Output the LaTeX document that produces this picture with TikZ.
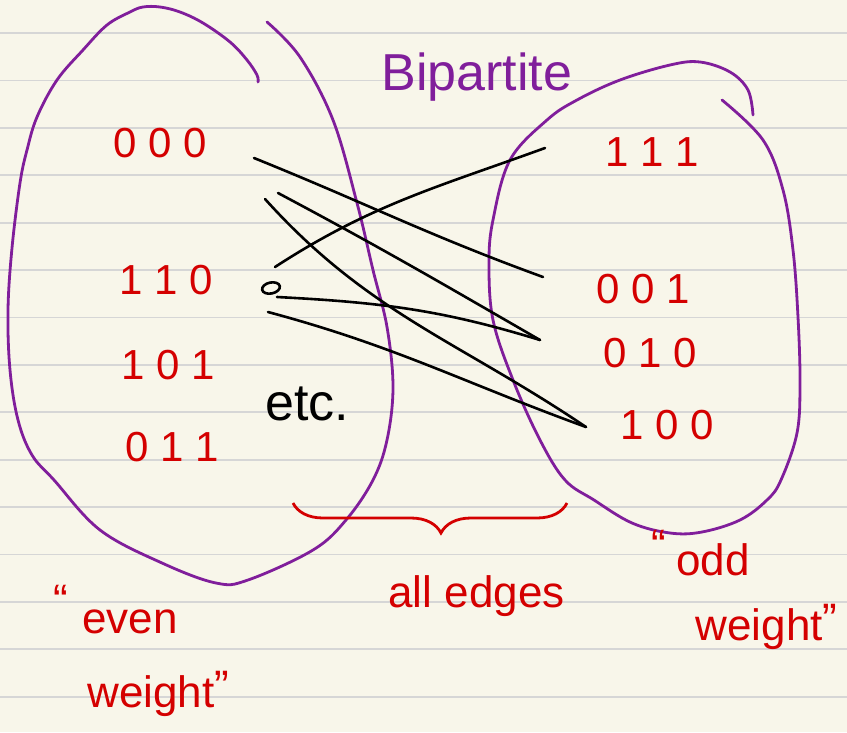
\documentclass[tikz,border=0pt]{standalone}
\usepackage{fontspec}
\setmainfont{Liberation Sans}
\usetikzlibrary{shapes.geometric,decorations.pathreplacing}
\definecolor{paperbg}{RGB}{248,246,234}
\definecolor{ruleline}{RGB}{214,214,214}
\definecolor{inkpurple}{RGB}{128,30,155}
\definecolor{inkred}{RGB}{212,0,0}

\begin{document}
\begin{tikzpicture}[x=1pt,y=1pt,
    rule/.style={ruleline,line width=1.8pt},
    blob/.style={inkpurple,line width=2.8pt,line cap=round},
    edge/.style={black,line width=2.6pt,line cap=round},
    code/.style={inkred,font=\fontsize{42}{48}\selectfont},
    word/.style={inkred,anchor=base west,font=\fontsize{44}{50}\selectfont}]
  \fill[paperbg] (0,0) rectangle (847,-732);
  \useasboundingbox (0,0) rectangle (847,-732);
  \foreach \k in {0,...,14}
    \draw[rule] (0,{-33-47.4*\k}) -- (847,{-33-47.4*\k});
  % even side and odd side
  \draw[blob] plot[smooth,tension=0.6] coordinates {(258,-82) (257,-75) (247,-60) (230,-42) (203,-23) (180,-12) (160,-7) (143,-7) (130,-12) (107,-25) (83,-50) (57,-80) (37,-117) (27,-150) (20,-183) (12,-248) (8,-310) (10,-370) (18,-420) (32,-455) (54,-480) (100,-530) (162,-563) (216,-583) (248,-580) (313,-550) (346,-520) (373,-480) (387,-440) (393,-387) (387,-327) (373,-270) (357,-203) (333,-120) (300,-57) (267,-22)};
  \draw[blob] plot[smooth,tension=0.6] coordinates {(722,-100) (763,-140) (783,-190) (793,-250) (798,-317) (800,-383) (797,-433) (781,-480) (767,-500) (740,-520) (702,-532) (670,-533) (632,-523) (594,-500) (565,-480) (540,-440) (513,-380) (493,-320) (489,-263) (493,-220) (510,-160) (547,-120) (577,-100) (620,-80) (670,-65) (700,-62) (730,-72) (748,-90) (753,-115)};
  \node[inkpurple,anchor=base west,font=\fontsize{52}{58}\selectfont] (title) at (378,-90) {Bipartite};
  % codes
  \node[code] (c000) at (160,-143) {0 0 0};
  \node[code] (c110) at (166,-280) {1 1 0};
  \node[code] (c101) at (168,-365) {1 0 1};
  \node[code] (c011) at (172,-447) {0 1 1};
  \node[code] (c111) at (652,-152) {1 1 1};
  \node[code] (c001) at (643,-289) {0 0 1};
  \node[code] (c010) at (650,-353) {0 1 0};
  \node[code] (c100) at (667,-425) {1 0 0};
  \node[anchor=base west,font=\fontsize{52}{58}\selectfont] (etc) at (262,-420) {etc.};
  % edge ends
  \node[draw,ellipse,line width=2.6pt,inner sep=0pt,minimum width=18pt,minimum height=11pt,rotate=12] (dot) at (271,-288) {};
  \coordinate (t000a) at (254,-158);
  \coordinate (t000b) at (278,-193);
  \coordinate (t000c) at (265,-199);
  \coordinate (t110a) at (275,-267);
  \coordinate (t110b) at (277,-297);
  \coordinate (t110c) at (268,-312);
  \coordinate (h001) at (543,-277);
  \coordinate (h111) at (545,-148);
  \coordinate (h010) at (540,-340);
  \coordinate (h100) at (586,-427);
  \draw[edge] (t000a) to[out=-22,in=160] (h001);
  \draw[edge] (t110a) to[out=33,in=200] (h111);
  \draw[edge] (t000b) to[out=-28,in=150] (h010);
  \draw[edge] (t000c) to[out=-48,in=146] (h100);
  \draw[edge] (t110b) to[out=-3,in=163] (h010);
  \draw[edge] (t110c) to[out=-15,in=160] (h100);
  % labels
  \coordinate (braceL) at (293,-503);
  \coordinate (braceR) at (567,-503);
  \draw[inkred,line width=2.8pt,decorate,decoration={brace,mirror,amplitude=30pt,aspect=0.54}] (braceL) -- (braceR);
  \node[word] (all) at (385,-607) {all edges};
  \node[word] (odd) at (648,-575) {\raisebox{15pt}{“}\hspace{10pt}odd};
  \node[word] (oddw) at (692,-640) {weight\raisebox{6pt}{”}};
  \node[word] (even) at (50,-633) {\raisebox{18pt}{“}\hspace{14pt}even};
  \node[word] (evenw) at (84,-707) {weight\raisebox{6pt}{”}};
\end{tikzpicture}
\end{document}
